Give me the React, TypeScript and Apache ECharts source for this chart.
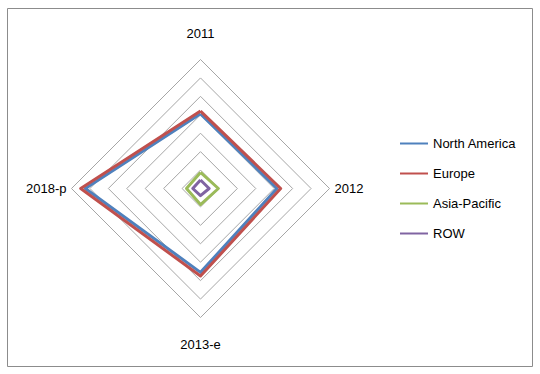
import React, { useEffect, useRef } from "react";
import * as echarts from "echarts";

const categories = ["2011", "2012", "2013-e", "2018-p"];
// ECharts radar lays indicators out counter-clockwise from the top; Excel goes clockwise.
const displayOrder = [0, 3, 2, 1];
const axisMax = 70;

const seriesNames = ["North America", "Europe", "Asia-Pacific", "ROW"];
const northAmerica = [40.5, 41.5, 45.5, 62.5];
const europe = [42, 43.5, 47.5, 65];
const asiaPacific = [8.7, 9.7, 8.7, 7.6];
const row = [4.6, 4.7, 3.9, 4.2];

const seriesValues = [northAmerica, europe, asiaPacific, row];
const seriesColors = ["#4F81BD", "#C0504D", "#9BBB59", "#8064A2"];

const FONT = "'Liberation Sans', Arial, sans-serif";

export default function App() {
  const ref = useRef<HTMLDivElement>(null);

  useEffect(() => {
    if (!ref.current) return;
    const chart = echarts.init(ref.current, undefined, { renderer: "svg" });
    chart.setOption({
      animation: false,
      backgroundColor: "#ffffff",
      textStyle: { fontFamily: FONT },
      graphic: [
        {
          type: "rect",
          shape: { x: 7.5, y: 8.5, width: 525, height: 358 },
          style: { fill: "none", stroke: "#8C8C8C", lineWidth: 1 },
          silent: true,
        },
      ],
      legend: {
        orient: "vertical",
        left: 400,
        top: 137,
        padding: 0,
        itemWidth: 28,
        itemHeight: 2,
        itemGap: 17,
        icon: "rect",
        textStyle: { color: "#000", fontSize: 13, fontFamily: FONT },
        data: seriesNames,
      },
      radar: {
        center: [200.5, 188.5],
        radius: 129,
        startAngle: 90,
        shape: "polygon",
        splitNumber: 7,
        nameGap: 5,
        axisName: {
          color: "#000",
          fontSize: 13,
          fontFamily: FONT,
          padding: [15, 0, 15, 0],
        },
        axisLine: { show: false },
        axisTick: { show: false },
        splitArea: { show: false },
        splitLine: { lineStyle: { color: "#A6A6A6", width: 1 } },
        indicator: displayOrder.map((i) => ({ name: categories[i], min: 0, max: axisMax })),
      },
      series: [
        {
          type: "radar",
          symbol: "none",
          data: seriesNames.map((name, s) => ({
            name,
            value: displayOrder.map((i) => seriesValues[s][i]),
            lineStyle: { color: seriesColors[s], width: 3 },
            itemStyle: { color: seriesColors[s] },
          })),
        },
      ],
    });
    return () => chart.dispose();
  }, []);

  return (
    <div
      ref={ref}
      style={{ position: "fixed", left: 0, top: 0, width: 540, height: 374 }}
    />
  );
}
